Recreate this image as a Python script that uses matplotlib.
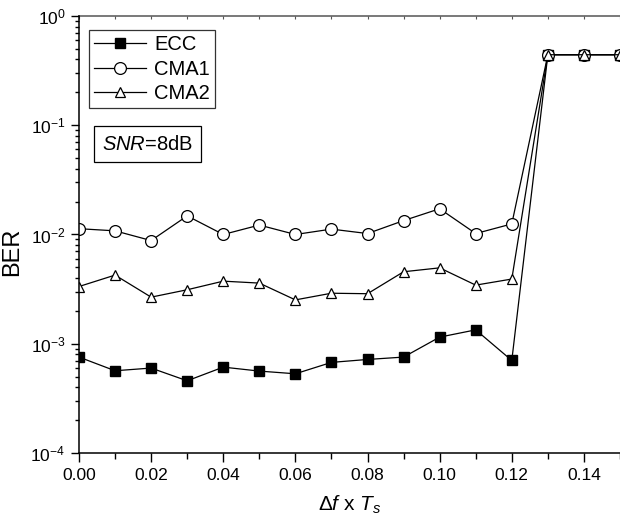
import matplotlib
matplotlib.use("Agg")
import matplotlib.pyplot as plt
from matplotlib.ticker import MultipleLocator, LogLocator, NullFormatter

plt.rcParams["font.family"] = ["Liberation Sans", "DejaVu Sans"]
plt.rcParams["mathtext.fontset"] = "custom"
plt.rcParams["mathtext.rm"] = "Liberation Sans"
plt.rcParams["mathtext.it"] = "Liberation Sans:italic"
plt.rcParams["mathtext.bf"] = "Liberation Sans:bold"
plt.rcParams["axes.unicode_minus"] = False

df_ts = [0.00, 0.01, 0.02, 0.03, 0.04, 0.05, 0.06, 0.07,
         0.08, 0.09, 0.10, 0.11, 0.12, 0.13, 0.14, 0.15]
ber_ecc = [0.000755, 0.000566, 0.000599, 0.000458, 0.000611, 0.000562,
           0.000531, 0.000675, 0.000718, 0.000755, 0.00115, 0.00134,
           0.000703, 0.442, 0.442, 0.442]
ber_cma1 = [0.0113, 0.0108, 0.0088, 0.0148, 0.0100, 0.0122, 0.0100,
            0.0112, 0.0102, 0.0134, 0.0172, 0.0102, 0.0125,
            0.442, 0.442, 0.442]
ber_cma2 = [0.00334, 0.00425, 0.00267, 0.00312, 0.00374, 0.00359,
            0.00252, 0.00290, 0.00287, 0.00456, 0.00495, 0.00344,
            0.00391, 0.442, 0.442, 0.442]

fig = plt.figure(figsize=(6.2, 5.24), dpi=100)
ax = fig.add_axes([0.1274, 0.1355, 0.8726, 0.834])

lw = 0.9
ax.plot(df_ts, ber_ecc, "-s", color="black", lw=lw, ms=6.5,
        mfc="black", mec="black", label="ECC")
ax.plot(df_ts, ber_cma1, "-o", color="black", lw=lw, ms=8.5,
        mfc="white", mec="black", mew=0.9, label="CMA1")
ax.plot(df_ts, ber_cma2, "-^", color="black", lw=lw, ms=7.5,
        mfc="white", mec="black", mew=0.9, label="CMA2")

ax.set_yscale("log")
ax.set_ylim(1e-4, 1)
ax.set_xlim(0, 0.15)
ax.xaxis.set_major_locator(MultipleLocator(0.02))
ax.xaxis.set_minor_locator(MultipleLocator(0.01))
ax.xaxis.set_major_formatter(plt.FuncFormatter(lambda v, p: f"{v:.2f}"))
ax.yaxis.set_major_locator(LogLocator(base=10, numticks=10))
ax.yaxis.set_minor_locator(LogLocator(base=10, subs=range(2, 10), numticks=20))
ax.yaxis.set_minor_formatter(NullFormatter())

ax.tick_params(which="both", direction="out", top=False, right=False,
               labelsize=12.5, width=1)
ax.tick_params(axis="x", which="major", length=6.5, pad=4)
ax.tick_params(axis="x", which="minor", length=4.3)
ax.tick_params(axis="y", which="major", length=5.8, pad=4)
ax.tick_params(axis="y", which="minor", length=3)

# grey top frame with small marks every 0.01
top = ax.secondary_xaxis("top")
top.xaxis.set_major_locator(MultipleLocator(0.01))
top.tick_params(direction="in", length=2, labeltop=False, color="#555555")
top.spines["top"].set_color("#555555")
top.spines["top"].set_linewidth(1.1)
ax.spines["right"].set_visible(False)
ax.spines["top"].set_visible(False)
for s in ["left", "bottom"]:
    ax.spines[s].set_linewidth(1.1)

ax.set_ylabel("BER", fontsize=17)
ax.yaxis.set_label_coords(-0.1035, 0.46)
ax.set_xlabel(r"$\Delta\mathit{f}$ x $\mathit{T}_{\mathit{s}}$", fontsize=15,
              labelpad=8)

leg = ax.legend(loc="upper left", bbox_to_anchor=(0.0185, 0.968),
                fontsize=14.5, frameon=True, fancybox=False, numpoints=1,
                handlelength=2.6, handletextpad=0.4, borderpad=0.25,
                labelspacing=0.28, borderaxespad=0)
leg.get_frame().set_edgecolor("black")
leg.get_frame().set_linewidth(0.9)

ax.text(0.042, 0.707, r"$\mathit{SNR}$=8dB", transform=ax.transAxes,
        fontsize=14.5, va="center", ha="left",
        bbox=dict(boxstyle="square,pad=0.4", fc="white", ec="black", lw=0.9))

fig.savefig("out.png", dpi=100)
